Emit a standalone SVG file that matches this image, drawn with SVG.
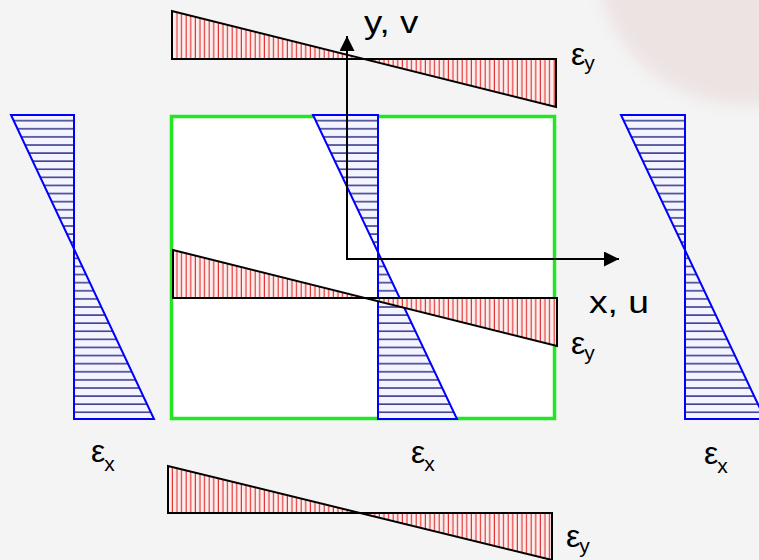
<svg xmlns="http://www.w3.org/2000/svg" width="759" height="560" viewBox="0 0 759 560">
  <style>
    .lbl { font-family: "Liberation Sans", Arial, sans-serif; fill: #000; }
    .eps { font-size: 32px; }
    .sub { font-size: 21px; }
    .axis { font-size: 31px; }
    .red { fill: url(#redHatch); stroke: none; }
    .redOut { fill: none; stroke: #000; stroke-width: 2; stroke-linejoin: miter; }
    .blue { fill: url(#blueHatch); stroke: none; }
    .blueOut { fill: none; stroke: #0000ff; stroke-width: 2; }
    .conn { fill: none; stroke: #000; stroke-width: 2; }
  </style>
  <defs>
    <pattern id="redHatch" patternUnits="userSpaceOnUse" width="4.6" height="10">
      <rect width="4.6" height="10" fill="#fdeeee"/>
      <rect x="1.6" width="1.1" height="10" fill="#e02a2a"/>
    </pattern>
    <pattern id="blueHatch" patternUnits="userSpaceOnUse" width="10" height="8.1" y="0">
      <rect width="10" height="8.1" fill="#f3f4ff"/>
      <rect y="6.5" width="10" height="1.6" fill="#40408e"/>
    </pattern>
    <marker id="arrow" markerUnits="userSpaceOnUse" markerWidth="16" markerHeight="16" refX="15" refY="7.5" orient="auto">
      <path d="M0,0 L15,7.5 L0,15 Z" fill="#000"/>
    </marker>
    <filter id="soft" x="-20%" y="-20%" width="140%" height="140%">
      <feGaussianBlur stdDeviation="8"/>
    </filter>
  </defs>

  <!-- background -->
  <rect width="759" height="560" fill="#f4f4f4"/>
  <circle cx="745" cy="-45" r="150" fill="#ede3e3" filter="url(#soft)"/>

  <!-- element -->
  <g id="element">
    <rect x="171.5" y="116.5" width="383" height="302" fill="#ffffff" stroke="#22e622" stroke-width="3.5"/>
  </g>

  <!-- epsilon x distributions -->
  <g id="ex-left">
    <polygon class="blue" points="11,115 74,115 74,249"/>
    <polygon class="blue" points="74,249 74,419 154,419"/>
    <path class="blueOut" d="M11,115 H74 V419 H154 L11,115 Z"/>
    <text class="lbl eps" x="91" y="462">ε<tspan class="sub" dx="-1" dy="9">x</tspan></text>
  </g>
  <g id="ex-center">
    <polygon class="blue" points="313,115 378,115 378,252"/>
    <polygon class="blue" points="378,252 378,419 457,419"/>
    <path class="blueOut" d="M313,115 H378 V419 H457 L313,115 Z"/>
    <text class="lbl eps" x="411" y="463">ε<tspan class="sub" dx="-1" dy="8">x</tspan></text>
  </g>
  <g id="ex-right">
    <polygon class="blue" points="621,115 685,115 685,250"/>
    <polygon class="blue" points="685,250 685,419 765,419"/>
    <path class="blueOut" d="M621,115 H685 V419 H765 L621,115 Z"/>
    <text class="lbl eps" x="704" y="464">ε<tspan class="sub" dx="-1" dy="9">x</tspan></text>
  </g>

  <!-- epsilon y distributions -->
  <g id="ey-top">
    <polygon class="red" points="172,11 172,59 364,59"/>
    <polygon class="red" points="364,59 556,59 556,107"/>
    <path class="redOut" d="M172,11 V59 H556 V107 L172,11 Z"/>
    <text class="lbl eps" x="571" y="65">ε<tspan class="sub" dx="-1" dy="5">y</tspan></text>
  </g>
  <g id="ey-middle">
    <polygon class="red" points="173,250 173,298 365,298"/>
    <polygon class="red" points="365,298 557,298 557,346"/>
    <path class="redOut" d="M173,250 V298 H557 V346 L173,250 Z"/>
    <text class="lbl eps" x="571" y="354">ε<tspan class="sub" dx="-1" dy="6">y</tspan></text>
  </g>
  <g id="ey-bottom">
    <polygon class="red" points="168,466 168,513 360,513"/>
    <polygon class="red" points="360,513 552,513 552,560"/>
    <path class="redOut" d="M168,466 V513 H552 V560 L168,466 Z"/>
    <text class="lbl eps" x="566" y="547">ε<tspan class="sub" dx="-1" dy="6">y</tspan></text>
  </g>

  <!-- axes (connectors) -->
  <g id="connectors">
    <path class="conn" d="M347,260 V36" marker-end="url(#arrow)"/>
    <path class="conn" d="M346,259 H619" marker-end="url(#arrow)"/>
  </g>
  <g id="axis-labels">
    <text class="lbl axis" transform="translate(364,33) scale(1.18,1)">y, v</text>
    <text class="lbl axis" transform="translate(589,313) scale(1.2,1)">x, u</text>
  </g>
</svg>
